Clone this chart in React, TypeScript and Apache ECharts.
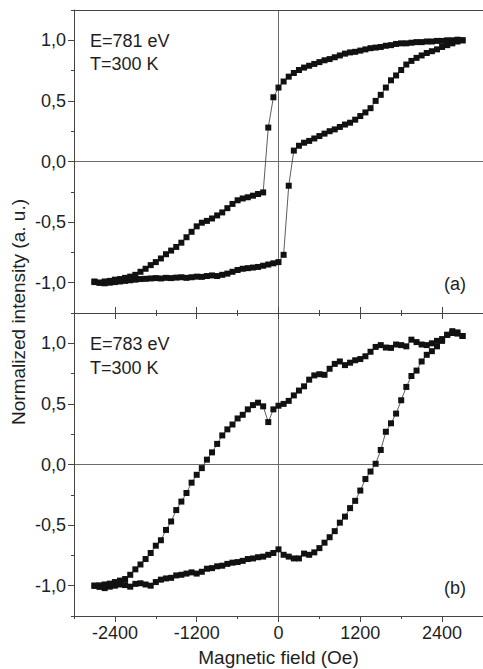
import React, { useEffect, useRef } from "react";
import * as echarts from "echarts";

// Applied field (Oe), common to all four branches
const field = [
  -2700, -2625, -2550, -2475, -2400, -2325, -2250, -2175, -2100, -2025, -1950, -1875, -1800,
  -1725, -1650, -1575, -1500, -1425, -1350, -1275, -1200, -1125, -1050, -975, -900, -825,
  -750, -675, -600, -525, -450, -375, -300, -225, -150, -75, 0, 75, 150, 225, 300, 375, 450,
  525, 600, 675, 750, 825, 900, 975, 1050, 1125, 1200, 1275, 1350, 1425, 1500, 1575, 1650,
  1725, 1800, 1875, 1950, 2025, 2100, 2175, 2250, 2325, 2400, 2475, 2550, 2625, 2700,
];

// (a) E = 781 eV, increasing field branch
const loopAUp = [
  -0.99, -1.0, -1.005, -1.0, -0.995, -0.99, -0.985, -0.98, -0.975, -0.97, -0.968, -0.965, -0.962,
  -0.965, -0.96, -0.962, -0.958, -0.955, -0.96, -0.955, -0.95, -0.952, -0.945, -0.94, -0.945, -0.935,
  -0.925, -0.91, -0.895, -0.885, -0.88, -0.875, -0.87, -0.86, -0.85, -0.84, -0.83, -0.77, -0.2,
  0.09, 0.13, 0.155, 0.17, 0.19, 0.21, 0.23, 0.25, 0.265, 0.285, 0.305, 0.32, 0.345, 0.375,
  0.405, 0.44, 0.5, 0.55, 0.61, 0.67, 0.71, 0.755, 0.8, 0.83, 0.855, 0.875, 0.895, 0.91,
  0.925, 0.945, 0.96, 0.975, 0.99, 1.0,
];

// (a) E = 781 eV, decreasing field branch
const loopADown = [
  -0.995, -1.0, -0.99, -0.985, -0.975, -0.97, -0.96, -0.95, -0.935, -0.91, -0.885, -0.855, -0.83,
  -0.8, -0.765, -0.735, -0.705, -0.67, -0.625, -0.58, -0.535, -0.505, -0.49, -0.47, -0.445, -0.42,
  -0.385, -0.35, -0.32, -0.305, -0.295, -0.282, -0.268, -0.255, 0.28, 0.53, 0.61, 0.66, 0.7,
  0.73, 0.755, 0.775, 0.79, 0.805, 0.82, 0.835, 0.845, 0.86, 0.875, 0.89, 0.9, 0.905, 0.915,
  0.925, 0.935, 0.94, 0.945, 0.955, 0.96, 0.97, 0.975, 0.975, 0.98, 0.985, 0.985, 0.99, 0.99,
  0.995, 0.995, 1.0, 1.0, 1.005, 1.0,
];

// (b) E = 783 eV, increasing field branch
const loopBUp = [
  -1.0, -1.01, -1.02, -1.008, -1.0, -0.99, -0.995, -1.008, -0.985, -0.98, -0.99, -1.0, -0.97,
  -0.95, -0.94, -0.935, -0.915, -0.91, -0.9, -0.89, -0.9, -0.885, -0.86, -0.855, -0.84, -0.835,
  -0.82, -0.81, -0.805, -0.795, -0.78, -0.775, -0.765, -0.76, -0.745, -0.73, -0.7, -0.745, -0.76,
  -0.775, -0.775, -0.735, -0.745, -0.725, -0.69, -0.645, -0.6, -0.55, -0.48, -0.43, -0.36, -0.3,
  -0.215, -0.12, -0.058, 0.006, 0.12, 0.27, 0.34, 0.42, 0.53, 0.64, 0.73, 0.775, 0.85, 0.905,
  0.935, 0.975, 1.02, 1.07, 1.085, 1.08, 1.06,
];

// (b) E = 783 eV, decreasing field branch
const loopBDown = [
  -1.0, -0.997, -0.99, -0.983, -0.97, -0.958, -0.945, -0.91, -0.865, -0.825, -0.78, -0.73, -0.67,
  -0.625, -0.54, -0.47, -0.376, -0.306, -0.235, -0.15, -0.085, -0.03, 0.04, 0.1, 0.17, 0.24,
  0.29, 0.33, 0.38, 0.41, 0.455, 0.49, 0.51, 0.48, 0.35, 0.455, 0.485, 0.5, 0.525, 0.57, 0.61,
  0.645, 0.7, 0.735, 0.745, 0.74, 0.79, 0.83, 0.85, 0.82, 0.84, 0.86, 0.87, 0.893, 0.93, 0.97,
  0.985, 0.965, 0.962, 0.99, 0.985, 0.975, 1.03, 1.01, 0.99, 0.985, 1.0, 1.02, 1.035, 1.07, 1.1,
  1.09, 1.06,
];

// Axis ticks and labels
const fieldMajorTicks = [-2400, -1200, 0, 1200, 2400];
const intensityMajorTicks = [-1, -0.5, 0, 0.5, 1];

const FONT = "Liberation Sans";
const AXIS_COLOR = "#444";
const ZERO_COLOR = "#6a6a6a";
const TEXT_COLOR = "#1e1e1e";

const X_MIN = -3000;
const X_MAX = 3000;
const Y_MIN = -1.25;
const Y_MAX = 1.25;

const fmtIntensity = (v: number) => v.toFixed(1).replace(".", ",");

function xMajor(gridIndex: number, position: "top" | "bottom", withLabels: boolean) {
  return {
    type: "value",
    gridIndex,
    position,
    min: X_MIN,
    max: X_MAX,
    interval: 600,
    axisLine: { show: true, onZero: false, lineStyle: { color: AXIS_COLOR, width: 1 } },
    axisTick: {
      show: true,
      inside: false,
      length: 6,
      customValues: fieldMajorTicks,
      lineStyle: { color: AXIS_COLOR, width: 1 },
    },
    axisLabel: {
      show: withLabels,
      customValues: fieldMajorTicks,
      margin: 8,
      color: TEXT_COLOR,
      fontFamily: FONT,
      fontSize: 18,
      formatter: (v: number) => String(v),
    },
    splitLine: { show: false },
  };
}

function xMinor(gridIndex: number, position: "top" | "bottom") {
  return {
    type: "value",
    gridIndex,
    position,
    min: X_MIN,
    max: X_MAX,
    interval: 600,
    axisLine: { show: false, onZero: false },
    axisTick: { show: true, inside: false, length: 3, lineStyle: { color: AXIS_COLOR, width: 1 } },
    axisLabel: { show: false },
    splitLine: { show: false },
  };
}

function xZero(gridIndex: number, position: "top" | "bottom", showLine: boolean) {
  return {
    type: "value",
    gridIndex,
    position,
    min: X_MIN,
    max: X_MAX,
    interval: 3000,
    axisLine: { show: showLine, onZero: false, lineStyle: { color: AXIS_COLOR, width: 1 } },
    axisTick: { show: false },
    axisLabel: { show: false },
    splitLine: { show: true, lineStyle: { color: ZERO_COLOR, width: 1 } },
  };
}

function yMajor(gridIndex: number) {
  return {
    type: "value",
    gridIndex,
    position: "left",
    min: Y_MIN,
    max: Y_MAX,
    interval: 0.25,
    axisLine: { show: true, onZero: false, lineStyle: { color: AXIS_COLOR, width: 1 } },
    axisTick: {
      show: true,
      inside: false,
      length: 6,
      customValues: intensityMajorTicks,
      lineStyle: { color: AXIS_COLOR, width: 1 },
    },
    axisLabel: {
      show: true,
      customValues: intensityMajorTicks,
      margin: 8,
      color: TEXT_COLOR,
      fontFamily: FONT,
      fontSize: 18,
      formatter: (v: number) => (Math.abs(v * 2 - Math.round(v * 2)) < 1e-6 ? fmtIntensity(v) : ""),
    },
    splitLine: { show: false },
  };
}

function yMinor(gridIndex: number) {
  return {
    type: "value",
    gridIndex,
    position: "left",
    min: Y_MIN,
    max: Y_MAX,
    interval: 0.25,
    axisLine: { show: false, onZero: false },
    axisTick: { show: true, inside: false, length: 3, lineStyle: { color: AXIS_COLOR, width: 1 } },
    axisLabel: { show: false },
    splitLine: { show: false },
  };
}

function yZero(gridIndex: number) {
  return {
    type: "value",
    gridIndex,
    position: "left",
    min: Y_MIN,
    max: Y_MAX,
    interval: 1.25,
    axisLine: { show: false, onZero: false },
    axisTick: { show: false },
    axisLabel: { show: false },
    splitLine: { show: true, lineStyle: { color: ZERO_COLOR, width: 1 } },
  };
}

function branch(values: number[], xAxisIndex: number, yAxisIndex: number) {
  return {
    type: "line",
    xAxisIndex,
    yAxisIndex,
    data: field.map((h, i) => [h, values[i]]),
    symbol: "rect",
    symbolSize: 6,
    showSymbol: true,
    itemStyle: { color: "#111" },
    lineStyle: { color: "#333", width: 0.8 },
    z: 3,
  };
}

function textEl(text: string, x: number, y: number, align = "left", size = 18) {
  return {
    type: "text",
    x,
    y,
    silent: true,
    style: {
      text,
      fill: TEXT_COLOR,
      font: `${size}px "${FONT}"`,
      align,
      verticalAlign: "middle",
      textAlign: align,
      textVerticalAlign: "middle",
    },
  };
}

export default function App() {
  const ref = useRef<HTMLDivElement>(null);

  useEffect(() => {
    if (!ref.current) return;
    const chart = echarts.init(ref.current, undefined, { renderer: "svg" });

    const xAxis: any[] = [
      xMajor(0, "bottom", false), // 0
      xMinor(0, "bottom"), // 1
      xZero(0, "top", true), // 2
      xMajor(1, "top", false), // 3
      xMinor(1, "top"), // 4
      {
        ...xMajor(1, "bottom", true),
        name: "Magnetic field (Oe)",
        nameLocation: "middle",
        nameGap: 32,
        nameTextStyle: { color: TEXT_COLOR, fontFamily: FONT, fontSize: 19 },
      }, // 5
      xMinor(1, "bottom"), // 6
      xZero(1, "bottom", false), // 7
    ];

    const yAxis: any[] = [yMajor(0), yMinor(0), yZero(0), yMajor(1), yMinor(1), yZero(1)];

    chart.setOption({
      animation: false,
      backgroundColor: "#ffffff",
      textStyle: { fontFamily: FONT },
      grid: [
        { left: 74, top: 10, width: 410, height: 303 },
        { left: 74, top: 313, width: 410, height: 303 },
      ],
      xAxis,
      yAxis,
      series: [
        branch(loopAUp, 0, 0),
        branch(loopADown, 0, 0),
        branch(loopBUp, 5, 3),
        branch(loopBDown, 5, 3),
      ],
      graphic: [
        textEl("E=781 eV", 90, 40.5),
        textEl("T=300 K", 90, 64),
        textEl("(a)", 466, 284, "right"),
        textEl("E=783 eV", 90, 344),
        textEl("T=300 K", 90, 367.5),
        textEl("(b)", 466, 588, "right"),
        {
          type: "text",
          x: 18.5,
          y: 312,
          rotation: Math.PI / 2,
          silent: true,
          style: {
            text: "Normalized intensity (a. u.)",
            fill: TEXT_COLOR,
            font: `19px "${FONT}"`,
            align: "center",
            verticalAlign: "middle",
            textAlign: "center",
            textVerticalAlign: "middle",
          },
        },
      ],
    });

    return () => chart.dispose();
  }, []);

  return (
    <div
      ref={ref}
      style={{ position: "absolute", left: 0, top: 0, width: 483, height: 669, background: "#fff" }}
    />
  );
}
